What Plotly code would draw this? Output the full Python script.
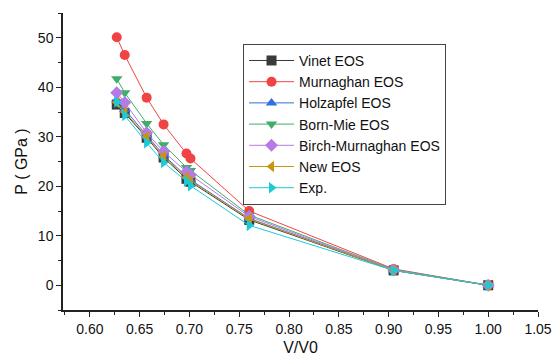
import plotly.graph_objects as go

v_ratio = [0.627, 0.635, 0.657, 0.674, 0.697, 0.701, 0.760, 0.905, 1.000]

vinet = [36.5, 34.8, 29.8, 25.8, 21.5, 20.9, 13.2, 3.0, 0.0]
murnaghan = [50.1, 46.5, 37.9, 32.5, 26.6, 25.6, 15.0, 3.3, 0.0]
holzapfel = [37.4, 35.5, 30.3, 26.3, 22.0, 21.3, 13.5, 3.1, 0.0]
born_mie = [41.7, 38.9, 32.7, 28.4, 23.8, 23.2, 14.2, 3.2, 0.0]
birch_murnaghan = [38.9, 36.9, 30.8, 27.0, 22.9, 22.3, 13.9, 3.1, 0.0]
new_eos = [36.9, 35.0, 30.0, 26.0, 21.8, 21.1, 13.4, 3.0, 0.0]
exp = [37.0, 34.3, 28.8, 24.8, 21.0, 20.1, 12.1, 3.0, 0.0]

series = [
    ("Vinet EOS", vinet, "#3a3a3a", "square"),
    ("Murnaghan EOS", murnaghan, "#f04444", "circle"),
    ("Holzapfel EOS", holzapfel, "#2f6fe0", "triangle-up"),
    ("Born-Mie EOS", born_mie, "#3fae6a", "triangle-down"),
    ("Birch-Murnaghan EOS", birch_murnaghan, "#b57ae6", "diamond"),
    ("New EOS", new_eos, "#c8960c", "triangle-left"),
    ("Exp.", exp, "#1ccad6", "triangle-right"),
]

x_ticks = [0.60, 0.65, 0.70, 0.75, 0.80, 0.85, 0.90, 0.95, 1.00, 1.05]
y_ticks = [0, 10, 20, 30, 40, 50]

fig = go.Figure()
for name, vals, color, sym in series:
    fig.add_trace(go.Scatter(
        x=v_ratio, y=vals, name=name, mode="lines+markers",
        line=dict(color=color, width=1),
        marker=dict(symbol=sym, size=10, color=color, line=dict(width=0)),
    ))

axis_common = dict(
    showgrid=False, zeroline=False, showline=True, linecolor="#222", linewidth=1.5,
    ticks="outside", ticklen=5, tickwidth=1, tickcolor="#222", automargin=False,
    tickfont=dict(family="Liberation Sans, Arial", size=14, color="#111"),
    title_font=dict(family="Liberation Sans, Arial", size=16, color="#111"),
)

fig.update_layout(
    width=554, height=356,
    margin=dict(l=63, r=16, t=13, b=46),
    paper_bgcolor="white", plot_bgcolor="white",
    xaxis=dict(range=[0.573, 1.05], tickvals=x_ticks,
               ticktext=[f"{t:.2f}" for t in x_ticks],
               minor=dict(dtick=0.025, ticks="outside", ticklen=3, tickcolor="#222"),
               title=dict(text="V/V0", standoff=6), **axis_common),
    yaxis=dict(range=[-5, 55], tickvals=y_ticks,
               minor=dict(dtick=5, ticks="outside", ticklen=3, tickcolor="#222"),
               title=dict(text="P ( GPa )", standoff=6), **axis_common),
    legend=dict(x=0.379, y=0.896, xanchor="left", yanchor="top",
                bordercolor="#444", borderwidth=1, bgcolor="white",
                font=dict(family="Liberation Sans, Arial", size=14, color="#111"),
                tracegroupgap=0, itemwidth=45),
    showlegend=True,
)

fig.write_html("out.html")
